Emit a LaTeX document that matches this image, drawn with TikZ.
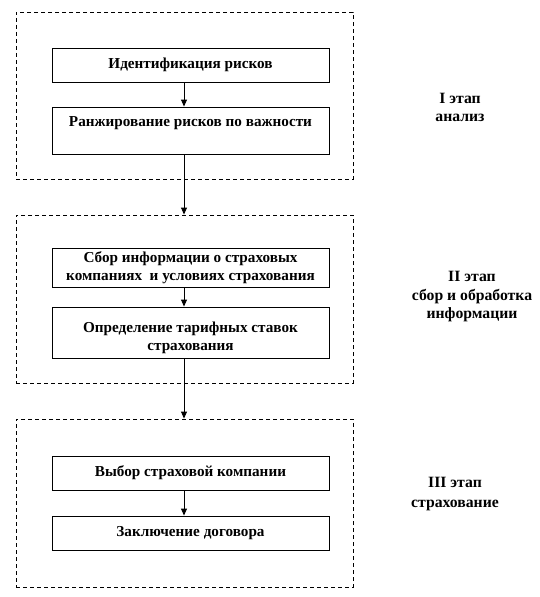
\documentclass[tikz,border=0pt]{standalone}
\usepackage{fontspec}
\setmainfont{Liberation Serif}
\usetikzlibrary{arrows.meta}
\begin{document}
\begin{tikzpicture}[x=1pt,y=-1pt,
  box/.style={draw, line width=0.9pt, minimum width=277pt, inner sep=0pt, align=center,
    font=\fontsize{15.2}{18}\selectfont\bfseries},
  stage/.style={draw, dash pattern=on 4pt off 3pt, line width=0.9pt, inner sep=0pt, minimum width=337pt},
  lab/.style={align=center, inner sep=0pt, font=\fontsize{15.7}{18.5}\selectfont\bfseries},
  arr/.style={-{Triangle[width=6pt,length=7pt]}, line width=0.9pt}]
\useasboundingbox (0,0) rectangle (540,597);
\coordinate (ax) at (184,0);
% stage frames
\node[stage, minimum height=167pt] (S1) at (184.5,95.5) {};
\node[stage, minimum height=168pt] (S2) at (184.5,299) {};
\node[stage, minimum height=168pt] (S3) at (184.5,503) {};
% boxes
\node[box, minimum height=34pt] (A) at (190.5,65) {Идентификация рисков};
\node[box, minimum height=47pt] (B) at (190.5,130.5) {Ранжирование рисков по важности\\\mbox{}};
\node[box, minimum height=39pt] (C) at (190.5,267.5) {Сбор информации о страховых\\компаниях \ и условиях страхования};
\node[box, minimum height=51pt] (D) at (190.5,332.5) {\rule{0pt}{21pt}Определение тарифных ставок\\страхования};
\node[box, minimum height=34pt] (E) at (190.5,473) {Выбор страховой компании};
\node[box, minimum height=34pt] (F) at (190.5,533) {Заключение договора};
% labels
\node[lab] (L1) at (460,107.5) {I этап\\анализ};
\node[lab] (L2) at (472,297) {II этап\\сбор и обработка\\информации};
\node[lab] (L3) at (455,494) {III этап\\[1.5pt]страхование};
% arrows
\draw[arr] (A.south -| ax) -- (B.north -| ax);
\draw[arr] (B.south -| ax) -- (S2.north -| ax);
\draw[arr] (C.south -| ax) -- (D.north -| ax);
\draw[arr] (D.south -| ax) -- (S3.north -| ax);
\draw[arr] (E.south -| ax) -- (F.north -| ax);
\end{tikzpicture}
\end{document}
